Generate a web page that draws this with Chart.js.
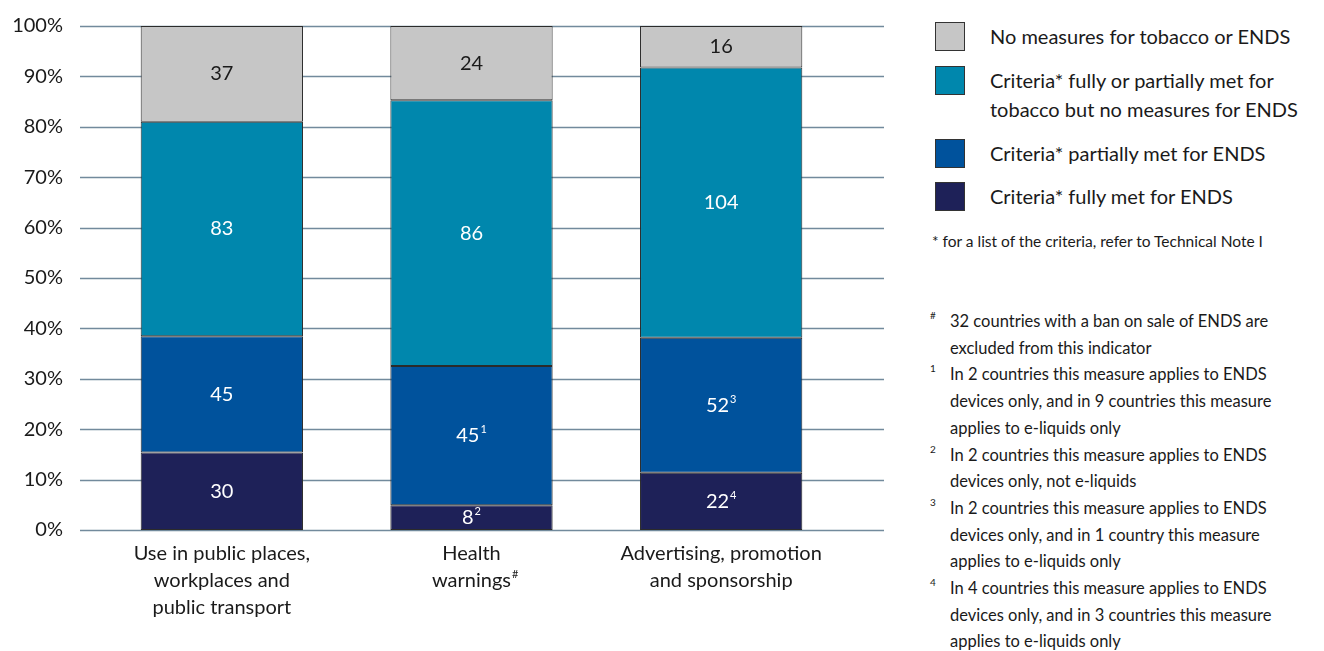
<!DOCTYPE html>
<html>
<head>
<meta charset="utf-8">
<script src="https://cdn.jsdelivr.net/npm/chart.js@4.4.1/dist/chart.umd.min.js"></script>
<style>
body{margin:0;background:#fff;font-family:Lato,"Open Sans",sans-serif;color:#1a1a1a}
#wrap{position:absolute;left:0;top:0;width:900px;height:651px}
#legend{position:absolute;left:935px;top:22px;width:389px}
.lg-row{position:absolute;left:0;display:flex;align-items:flex-start}
.lg-sw{width:30px;height:29px;border:1px solid #333;box-sizing:border-box;flex:none}
.lg-txt{margin-left:25px;font-size:20px;line-height:29px}
#crit{position:absolute;left:932px;top:232px;font-size:15.5px}
#notes{position:absolute;left:930px;top:308px;width:362px;font-size:16.5px;line-height:26.7px}
.nt{position:relative;padding-left:20px}
.nt .s{position:absolute;left:0;top:-3px;font-size:10px;line-height:20px}
</style>
</head>
<body>
<div id="wrap"><canvas id="c"></canvas></div>
<div id="legend"></div>
<div id="crit">* for a list of the criteria, refer to Technical Note I</div>
<div id="notes"></div>
<script>
// datos (conteo de países por categoría)
const CATS=[['Use in public places,','workplaces and','public transport'],['Health','warnings'],['Advertising, promotion','and sponsorship']];
const CAT_SUP=['','#',''];
const SERIES=['Criteria* fully met for ENDS','Criteria* partially met for ENDS','Criteria* fully or partially met for tobacco but no measures for ENDS','No measures for tobacco or ENDS'];
const FULLY=[30,8,22];
const PARTIAL=[45,45,52];
const TOBACCO=[83,86,104];
const NONE=[37,24,16];
const SUPS=[['','2','4'],['','1','3'],['','',''],['','','']];
const COLORS=['#1e2158','#00529c','#0087ad','#c6c6c6'];
const LBL_COL=['#fff','#fff','#fff','#1a1a1a'];
const Y_TICKS=[0,10,20,30,40,50,60,70,80,90,100];
const LEGEND_TXT=['No measures for tobacco or ENDS','Criteria* fully or partially met for<br>tobacco but no measures for ENDS','Criteria* partially met for ENDS','Criteria* fully met for ENDS'];
const NOTES=[['#','32 countries with a ban on sale of ENDS are excluded from this indicator'],
 ['1','In 2 countries this measure applies to ENDS devices only, and in 9 countries this measure applies to e-liquids only'],
 ['2','In 2 countries this measure applies to ENDS devices only, not e-liquids'],
 ['3','In 2 countries this measure applies to ENDS devices only, and in 1 country this measure applies to e-liquids only'],
 ['4','In 4 countries this measure applies to ENDS devices only, and in 3 countries this measure applies to e-liquids only']];

const RAW=[FULLY,PARTIAL,TOBACCO,NONE];
const TOT=FULLY.map((_,i)=>RAW.reduce((a,s)=>a+s[i],0));
const FONT='Lato, "Open Sans", sans-serif';

// leyenda y notas en html
const LG_TOP=[0,44,117,160];
document.getElementById('legend').innerHTML=LEGEND_TXT.map((t,i)=>`<div class="lg-row" style="top:${LG_TOP[i]}px"><div class="lg-sw" style="background:${COLORS[3-i]}"></div><div class="lg-txt">${t}</div></div>`).join('');
document.getElementById('notes').innerHTML=NOTES.map(n=>`<div class="nt"><span class="s">${n[0]}</span>${n[1]}</div>`).join('');

const gridExt={id:'gridExt',beforeDatasetsDraw(ch){
  const y=ch.scales.y,ca=ch.chartArea,ctx=ch.ctx;
  ctx.save();ctx.strokeStyle='#728a9c';ctx.lineWidth=1.6;
  y.ticks.forEach(t=>{const py=Math.round(y.getPixelForValue(t.value))+0.5;
    ctx.beginPath();ctx.moveTo(ca.left-17,py);ctx.lineTo(ca.right+38,py);ctx.stroke();});
  ctx.restore();
}};

const barLbl={id:'barLbl',afterDatasetsDraw(ch){
  const ctx=ch.ctx;ctx.save();ctx.textBaseline='middle';
  ch.data.datasets.forEach((ds,di)=>{
    ch.getDatasetMeta(di).data.forEach((el,i)=>{
      const txt=String(RAW[di][i]),sup=SUPS[di][i];
      const cy=(el.y+el.base)/2;
      ctx.font='20px '+FONT;const w=ctx.measureText(txt).width;
      ctx.font='11px '+FONT;const ws=sup?ctx.measureText(sup).width+1:0;
      const x0=el.x-(w+ws)/2;
      ctx.fillStyle=LBL_COL[di];ctx.textAlign='left';
      ctx.font='20px '+FONT;ctx.fillText(txt,x0,cy);
      if(sup){ctx.font='11px '+FONT;ctx.fillText(sup,x0+w+1,cy-6);}
    });
  });
  // superíndice de las etiquetas del eje x
  const x=ch.scales.x,ca=ch.chartArea;
  CAT_SUP.forEach((s,i)=>{ if(!s)return;
    const lines=CATS[i],last=lines[lines.length-1];
    ctx.font='20px '+FONT;const w=ctx.measureText(last).width;
    ctx.font='11px '+FONT;ctx.fillStyle='#1a1a1a';ctx.textAlign='left';
    ctx.fillText(s,x.getPixelForValue(i)+w/2+1,ca.bottom+24+27*(lines.length-1)-7);
  });
  ctx.restore();
}};

new Chart(document.getElementById('c'),{type:'bar',
  data:{labels:CATS,datasets:RAW.map((s,di)=>({label:SERIES[di],data:s.map((v,i)=>v/TOT[i]*100),
    backgroundColor:COLORS[di],borderColor:'#2b2b2b',borderWidth:1,borderSkipped:false,
    barPercentage:0.65,categoryPercentage:1}))},
  options:{responsive:true,maintainAspectRatio:false,animation:false,
    layout:{padding:{top:26,right:54,left:0,bottom:0}},
    plugins:{legend:{display:false},tooltip:{enabled:false}},
    scales:{
      x:{stacked:true,grid:{display:false,drawTicks:false},border:{display:false},
        ticks:{font:{size:20,family:FONT,lineHeight:1.35},color:'#1a1a1a',padding:10,maxRotation:0,autoSkip:false},
        afterFit:s=>{s.height=121}},
      y:{stacked:true,min:0,max:100,afterBuildTicks:s=>{s.ticks=Y_TICKS.map(v=>({value:v}))},
        grid:{display:false,drawTicks:true,tickLength:30},border:{display:false},
        ticks:{callback:v=>v+'%',font:{size:20,family:FONT},color:'#1a1a1a',padding:4},
        afterFit:s=>{s.width=97}}
    }
  },plugins:[gridExt,barLbl]});
</script>
</body>
</html>
